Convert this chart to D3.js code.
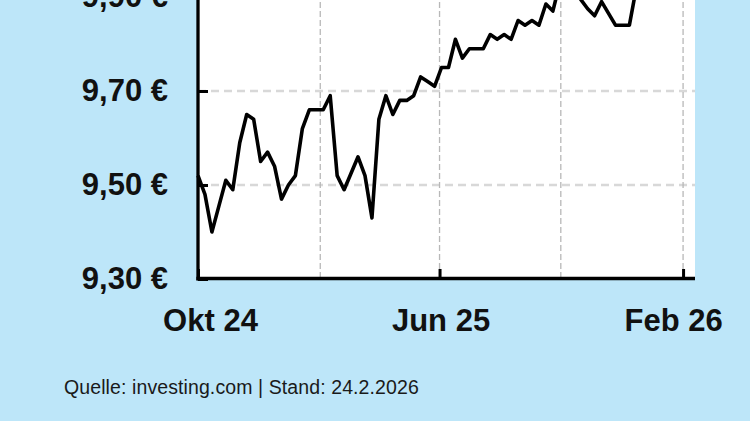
<!DOCTYPE html>
<html>
<head>
<meta charset="utf-8">
<script src="https://cdn.jsdelivr.net/npm/d3@7"></script>
<style>
  html, body { margin: 0; padding: 0; background: #bde6f9; }
  svg { display: block; }
  text { font-family: "Liberation Sans", Arial, Helvetica, sans-serif; }
</style>
</head>
<body>
<svg id="chart" width="750" height="421"></svg>
<script>
// ---- data ----
const dates = [
  "2024-10-01","2024-10-08","2024-10-15","2024-10-22","2024-10-29","2024-11-05","2024-11-12","2024-11-19",
  "2024-11-26","2024-12-03","2024-12-10","2024-12-17","2024-12-24","2024-12-31","2025-01-07","2025-01-14",
  "2025-01-21","2025-01-28","2025-02-04","2025-02-11","2025-02-18","2025-02-25","2025-03-04","2025-03-11",
  "2025-03-18","2025-03-25","2025-04-01","2025-04-08","2025-04-15","2025-04-22","2025-04-29","2025-05-06",
  "2025-05-13","2025-05-20","2025-05-27","2025-06-03","2025-06-10","2025-06-17","2025-06-24","2025-07-01",
  "2025-07-08","2025-07-15","2025-07-22","2025-07-29","2025-08-05","2025-08-12","2025-08-19","2025-08-26",
  "2025-09-02","2025-09-09","2025-09-16","2025-09-23","2025-09-30","2025-10-07","2025-10-14","2025-10-21",
  "2025-10-28","2025-11-04","2025-11-11","2025-11-18","2025-11-25","2025-12-02","2025-12-09","2025-12-16",
  "2025-12-23","2025-12-30","2026-01-06","2026-01-13","2026-01-20","2026-01-27","2026-02-03","2026-02-10"
];
const prices = [
  9.52, 9.48, 9.40, 9.455, 9.51, 9.49, 9.59, 9.65,
  9.64, 9.55, 9.57, 9.54, 9.47, 9.50, 9.52, 9.62,
  9.66, 9.66, 9.66, 9.69, 9.52, 9.49, 9.525, 9.56,
  9.52, 9.43, 9.64, 9.69, 9.65, 9.68, 9.68, 9.69,
  9.73, 9.72, 9.71, 9.75, 9.75, 9.81, 9.77, 9.79,
  9.79, 9.79, 9.82, 9.81, 9.82, 9.81, 9.85, 9.84,
  9.85, 9.84, 9.885, 9.87, 9.93, 9.95, 9.93, 9.895,
  9.875, 9.86, 9.89, 9.865, 9.84, 9.84, 9.84, 9.92,
  9.96, 9.98, 10.00, 9.99, 10.02, 10.05, 10.03, 10.06
];
const yTicks = [9.30, 9.50, 9.70, 9.90];
const yGridValues = [9.50, 9.70, 9.90];
const xTickDates = ["2024-10-01", "2025-06-01", "2026-02-01"];
const xTickLabels = ["Okt 24", "Jun 25", "Feb 26"];
const xGridDates = ["2025-02-01", "2025-06-01", "2025-10-01", "2026-02-01"];
const xDomain = ["2024-10-01", "2026-02-13"];
const yDomain = [9.30, 10.10];
const sourceText = "Quelle: investing.com | Stand: 24.2.2026";

// ---- chart ----
const parse = d3.utcParse("%Y-%m-%d");
const data = dates.map((d, i) => ({ date: parse(d), value: prices[i] }));

const svg = d3.select("#chart");
const left = 198, right = 695, bottom = 279;

const x = d3.scaleUtc().domain(xDomain.map(parse)).range([left, right]);
const y = d3.scaleLinear().domain(yDomain).range([bottom, bottom - 470 * (yDomain[1] - yDomain[0])]);

// white plot background
svg.append("rect")
  .attr("x", left).attr("y", y(yDomain[1]))
  .attr("width", right - left).attr("height", bottom - y(yDomain[1]))
  .attr("fill", "#ffffff");

// horizontal grid
svg.append("g").selectAll("line").data(yGridValues).join("line")
  .attr("x1", left).attr("x2", right)
  .attr("y1", d => y(d)).attr("y2", d => y(d))
  .attr("stroke", "#d8d8d8").attr("stroke-width", 2.5)
  .attr("stroke-dasharray", "8,5");

// vertical grid
svg.append("g").selectAll("line").data(xGridDates.map(parse)).join("line")
  .attr("x1", d => x(d)).attr("x2", d => x(d))
  .attr("y1", y(yDomain[1])).attr("y2", bottom)
  .attr("stroke", "#b8b8b8").attr("stroke-width", 1.3)
  .attr("stroke-dasharray", "6,3");

// line
const line = d3.line().x(d => x(d.date)).y(d => y(d.value));
svg.append("path").datum(data)
  .attr("d", line)
  .attr("fill", "none")
  .attr("stroke", "#000")
  .attr("stroke-width", 3.6)
  .attr("stroke-linejoin", "round");

// y axis
const loc = d3.formatLocale({ decimal: ",", thousands: ".", grouping: [3], currency: ["", " €"] });
const fmt = loc.format(".2f");
const yAxis = d3.axisLeft(y).tickValues(yTicks)
  .tickSizeInner(-10).tickSizeOuter(0).tickPadding(30)
  .tickFormat(d => fmt(d) + " €");
const gy = svg.append("g").attr("transform", `translate(${left},0)`).call(yAxis);
gy.select(".domain").remove();
gy.selectAll(".tick line").attr("stroke", "#000").attr("stroke-width", 3);
gy.selectAll(".tick text")
  .attr("fill", "#111").attr("font-size", 31).attr("font-weight", "bold");
svg.append("line")
  .attr("x1", left).attr("x2", left)
  .attr("y1", y(yDomain[1])).attr("y2", bottom + 1.5)
  .attr("stroke", "#000").attr("stroke-width", 3.3);

// x axis
const labelOffsets = [12, 1, -10];
const xAxis = d3.axisBottom(x).tickValues(xTickDates.map(parse))
  .tickSizeInner(-10).tickSizeOuter(0).tickPadding(30)
  .tickFormat((d, i) => xTickLabels[i]);
const gx = svg.append("g").attr("transform", `translate(0,${bottom})`).call(xAxis);
gx.select(".domain").remove();
gx.selectAll(".tick line").attr("stroke", "#000").attr("stroke-width", 3);
gx.selectAll(".tick text")
  .attr("fill", "#111").attr("font-size", 31).attr("font-weight", "bold")
  .attr("dx", (d, i) => labelOffsets[i]);
svg.append("line")
  .attr("x1", left - 1.6).attr("x2", right)
  .attr("y1", bottom - 0.5).attr("y2", bottom - 0.5)
  .attr("stroke", "#000").attr("stroke-width", 3.5);

// source
svg.append("text")
  .attr("x", 64).attr("y", 394)
  .attr("font-size", 19.5).attr("fill", "#1a1a1a")
  .attr("letter-spacing", 0.1)
  .text(sourceText);
</script>
</body>
</html>
